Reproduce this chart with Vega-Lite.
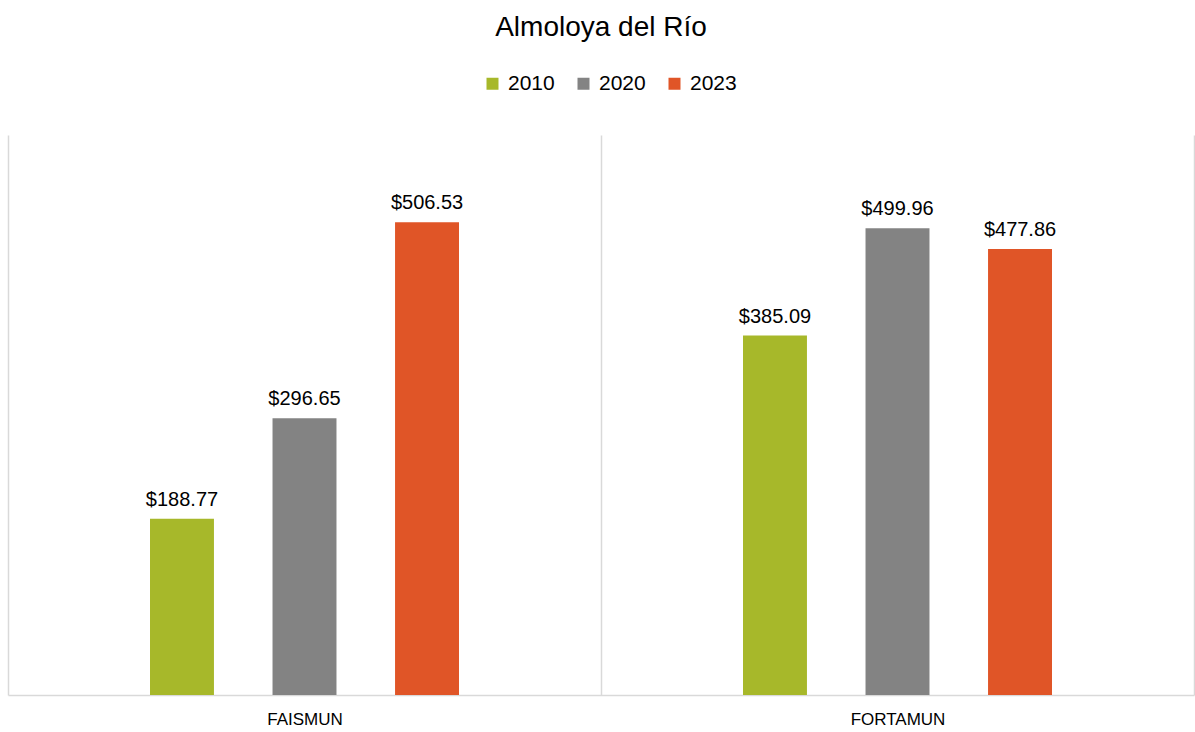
{
  "$schema": "https://vega.github.io/schema/vega-lite/v6.json",
  "width": 1186,
  "height": 560,
  "autosize": {"type": "none"},
  "padding": {"left": 8, "top": 135, "right": 1, "bottom": 37},
  "background": "white",
  "config": {
    "font": "Liberation Sans",
    "view": {"stroke": null}
  },
  "title": {
    "text": "Almoloya del Río",
    "fontSize": 28,
    "fontWeight": "normal",
    "color": "#000000",
    "anchor": "middle",
    "offset": 31
  },
  "data": {
    "values": [
      {"fondo": "FAISMUN", "anio": "2010", "monto": 188.77},
      {"fondo": "FAISMUN", "anio": "2020", "monto": 296.65},
      {"fondo": "FAISMUN", "anio": "2023", "monto": 506.53},
      {"fondo": "FORTAMUN", "anio": "2010", "monto": 385.09},
      {"fondo": "FORTAMUN", "anio": "2020", "monto": 499.96},
      {"fondo": "FORTAMUN", "anio": "2023", "monto": 477.86}
    ]
  },
  "encoding": {
    "x": {
      "field": "fondo",
      "type": "nominal",
      "title": null,
      "scale": {"paddingInner": 0, "paddingOuter": 0},
      "axis": {
        "labelAngle": 0,
        "labelFontSize": 17,
        "labelColor": "#000000",
        "labelPadding": 16,
        "ticks": false,
        "domainColor": "#d9d9d9",
        "domainWidth": 1.5,
        "grid": true,
        "gridColor": "#d9d9d9",
        "gridWidth": 1.5,
        "tickBand": "extent"
      }
    },
    "xOffset": {
      "field": "anio",
      "type": "nominal",
      "scale": {"paddingInner": 0.478, "paddingOuter": 0, "range": [142, 451]}
    },
    "y": {
      "field": "monto",
      "type": "quantitative",
      "scale": {"domain": [0, 600]},
      "axis": null
    },
    "color": {
      "field": "anio",
      "type": "nominal",
      "title": null,
      "scale": {"domain": ["2010", "2020", "2023"], "range": ["#a7b82a", "#838383", "#e05527"]},
      "legend": {
        "orient": "none",
        "legendX": 474,
        "legendY": -62,
        "direction": "horizontal",
        "symbolType": "square",
        "symbolSize": 144,
        "symbolStrokeWidth": 0,
        "labelFontSize": 21,
        "labelColor": "#000000",
        "columnPadding": 18,
        "labelOffset": 5
      }
    }
  },
  "layer": [
    {"mark": {"type": "bar", "opacity": 1}},
    {
      "mark": {"type": "text", "baseline": "bottom", "dy": -9, "fontSize": 20, "color": "#000000"},
      "encoding": {
        "text": {"field": "monto", "type": "quantitative", "format": "$.2f"},
        "color": {"value": "#000000"}
      }
    }
  ]
}
